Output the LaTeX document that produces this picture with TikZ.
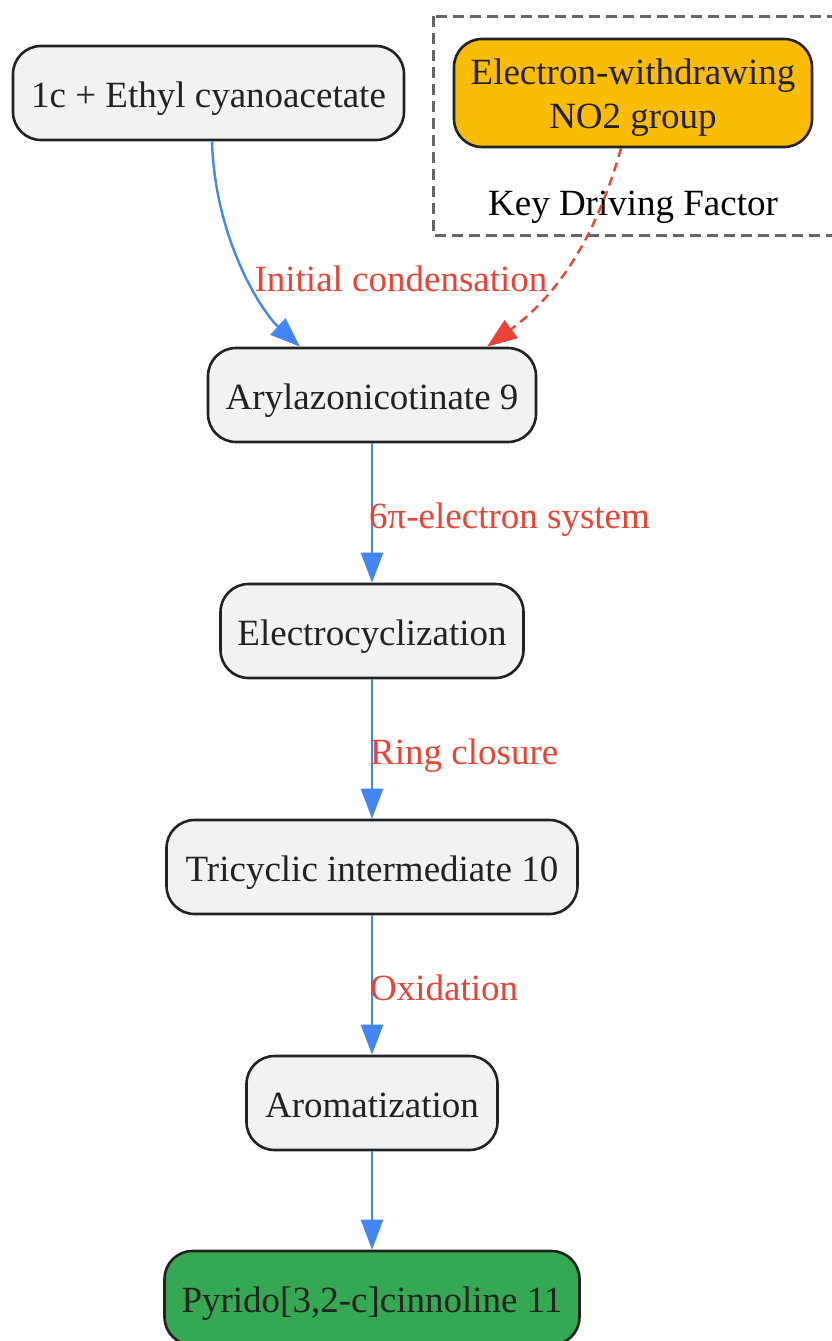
\documentclass[tikz,border=0pt]{standalone}
\usepackage{fontspec}
\setmainfont{Liberation Serif}
\usetikzlibrary{arrows.meta}
\definecolor{nodefill}{HTML}{F1F2F4}
\definecolor{nodeedge}{HTML}{222222}
\definecolor{txt}{HTML}{222222}
\definecolor{eblue}{HTML}{4285F4}
\definecolor{ered}{HTML}{EA4335}
\definecolor{kyellow}{HTML}{FBBC05}
\definecolor{kgreen}{HTML}{34A853}
\definecolor{cgray}{HTML}{666666}
\begin{document}
\begin{tikzpicture}[x=1pt,y=-1pt,
  bigfont/.style={font=\fontsize{37}{44}\selectfont},
  box/.style={draw=nodeedge, line width=2.6pt, fill=nodefill, rounded corners=28pt,
    minimum height=94pt, inner sep=0pt, text=txt, bigfont, text height=34pt, text depth=6pt},
  flow/.style={draw=eblue, line width=2.4pt, -{Triangle[length=30pt,width=22pt]}},
  drive/.style={draw=ered, line width=2.4pt, dash pattern=on 9pt off 6pt, -{Triangle[length=30pt,width=22pt]}},
  note/.style={bigfont, text=ered, inner sep=0pt, text height=33pt, text depth=9pt},
  cluster/.style={draw=cgray, line width=3pt, dash pattern=on 11pt off 6pt},
]
\useasboundingbox (0,0) rectangle (831,1341);
% cluster
\draw[cluster] (433,16) rectangle (850,235);
\node[bigfont, text=black, inner sep=0pt, text height=33pt, text depth=9pt] (keylabel) at (633,203) {Key Driving Factor};
% nodes
\node[box, minimum width=391pt] (A) at (208.5,93) {1c + Ethyl cyanoacetate};
\node[box, fill=kyellow, minimum width=358pt, minimum height=108pt] (B) at (633,93) {};
\node[bigfont, text=txt, align=center, inner sep=0pt] (Bt) at (633,98) {Electron-withdrawing\\NO2 group};
\node[box, minimum width=328pt] (C) at (372,395) {Arylazonicotinate 9};
\node[box, minimum width=303pt] (D) at (372,631) {Electrocyclization};
\node[box, minimum width=411pt] (E) at (372,867) {Tricyclic intermediate 10};
\node[box, minimum width=251pt] (F) at (372,1103) {Aromatization};
\node[box, fill=kgreen, minimum width=415pt] (G) at (372,1298) {Pyrido[3,2-c]cinnoline 11};
% edges
\draw[flow] ([xshift=3.5pt]A.south) .. controls (215,240) and (262,312) .. ([xshift=-72pt]C.north);
\draw[drive] ([xshift=-12pt]B.south) .. controls (598,230) and (562,292) .. ([xshift=115pt]C.north);
\draw[flow] (C) -- (D);
\draw[flow] (D) -- (E);
\draw[flow] (E) -- (F);
\draw[flow] (F) -- (G);
% labels
\node[note] (l1) at (401,279) {Initial condensation};
\node[note, anchor=west] (l2) at (369,516) {6π-electron system};
\node[note, anchor=west] (l3) at (370,752) {Ring closure};
\node[note, anchor=west] (l4) at (370,988) {Oxidation};
\end{tikzpicture}
\end{document}
